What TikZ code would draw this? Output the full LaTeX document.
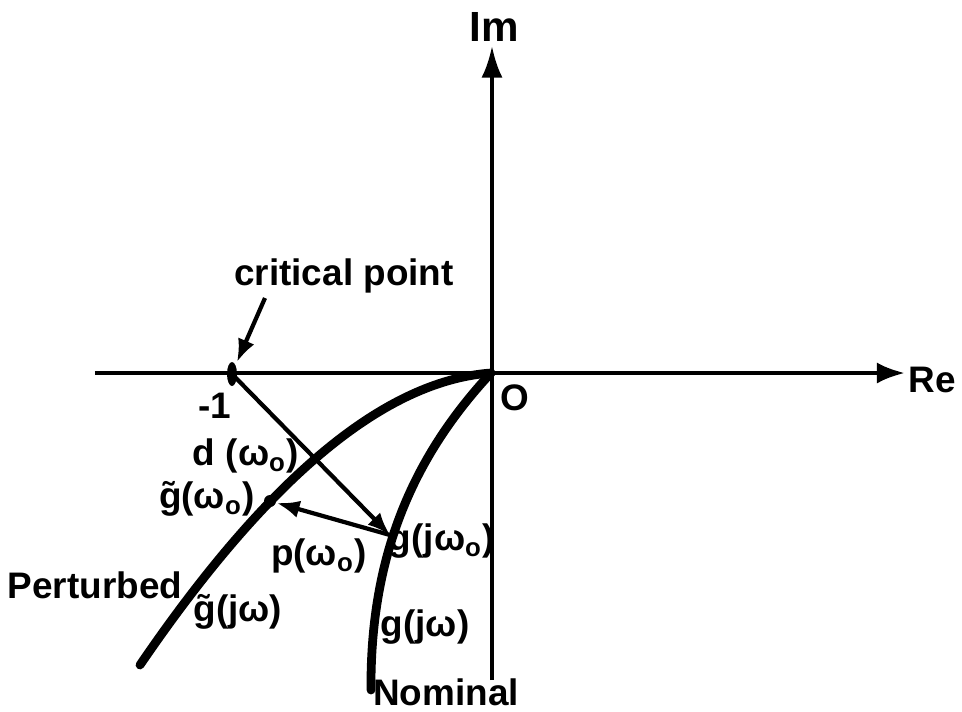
\documentclass[tikz,border=0pt]{standalone}
\usepackage{fontspec}
\setmainfont{Liberation Sans}
\usetikzlibrary{arrows.meta,positioning}

\begin{document}
\begin{tikzpicture}[x=0.1mm,y=-0.1mm,
  axis/.style={line width=1.2pt},
  curve/.style={line width=2.5pt, line cap=round},
  vec/.style={line width=1.2pt, -{Latex[length=6.5pt,width=5pt]}},
  lbl/.style={font=\bfseries\fontsize{10.5}{12}\selectfont, inner sep=1pt}]
  \useasboundingbox (0,0) rectangle (962,711);
  % points of the plane
  \coordinate (O) at (491,373);
  \coordinate (m1) at (232,374);
  \coordinate (g0) at (390,535);
  \coordinate (gt0) at (270,501);
  \coordinate (reS) at (95,373);
  \coordinate (reE) at (905,373);
  \coordinate (imS) at (492,680);
  \coordinate (imE) at (492,46);
  \coordinate (critTail) at (265,298);
  \coordinate (critTip) at (237,362);
  % axes
  \draw[axis,-{Latex[length=8pt,width=6pt]}] (reS) -- (reE);
  \draw[axis,-{Latex[length=9pt,width=6pt]}] (imS) -- (imE);
  \fill (m1) ellipse (5 and 12);
  % the two loci
  \draw[curve] (O) .. controls (395,380) and (280,460) .. (140,665);
  \draw[curve] (O) .. controls (410,460) and (370,560) .. (371,690);
  \fill (gt0) circle (6);
  % vectors
  \draw[vec] (m1) -- (g0);
  \draw[vec, shorten >=2pt] (g0) -- (gt0);
  \draw[vec] (critTail) -- (critTip);
  % labels
  \node[lbl, font=\bfseries\fontsize{12}{14}\selectfont] (Im) at (494,27) {Im};
  \node[lbl] (Re) at (932,380) {Re};
  \node[lbl] (Olbl) at (515,398) {O};
  \node[lbl] (m1lbl) at (215,406) {-1};
  \node[lbl] (crit) at (344,276) {critical point};
  \node[lbl] (dlbl) at (246,456) {d (ω\textsubscript{o})};
  \node[lbl] (gtlbl) at (207,499) {\~{g}(ω\textsubscript{o})};
  \node[lbl] (plbl) at (319,556) {p(ω\textsubscript{o})};
  \node[lbl] (glbl) at (442,541) {g(jω\textsubscript{o})};
  \node[lbl] (pert) at (95,585) {Perturbed};
  \node[lbl] (gtj) at (238,612) {\~{g}(jω)};
  \node[lbl] (gj) at (425,627) {g(jω)};
  \node[lbl] (nom) at (446,692) {Nominal};
\end{tikzpicture}
\end{document}
